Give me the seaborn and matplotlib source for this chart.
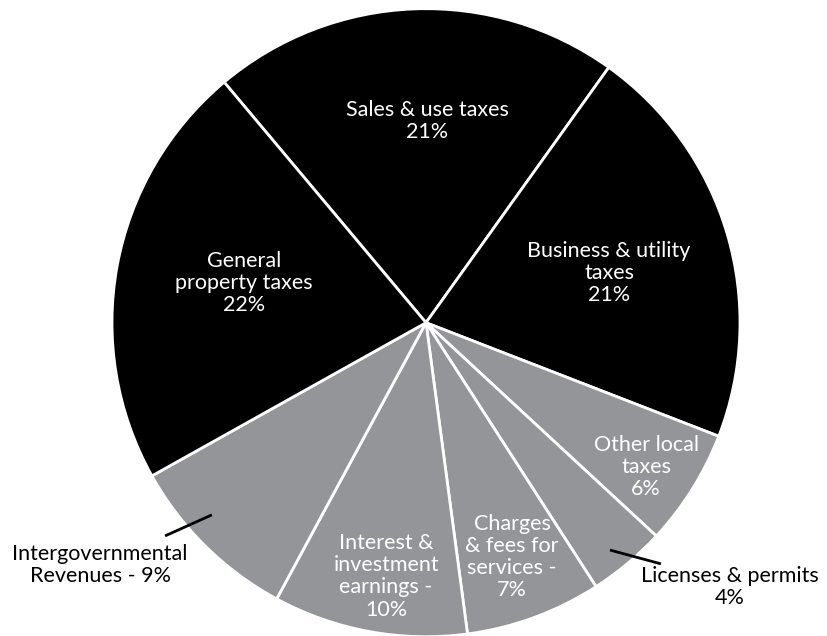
import matplotlib
matplotlib.use("Agg")
import matplotlib.pyplot as plt
import seaborn as sns

# Revenue sources, clockwise from the top slice
categories = [
    "Sales & use taxes",
    "Business & utility taxes",
    "Other local taxes",
    "Licenses & permits",
    "Charges & fees for services",
    "Interest & investment earnings",
    "Intergovernmental Revenues",
    "General property taxes",
]
shares = [21, 21, 6, 4, 7, 10, 9, 22]
tax_group = [True, True, False, False, False, False, False, True]

slice_labels = [
    "Sales & use taxes\n21%",
    "Business & utility\ntaxes\n21%",
    "Other local\ntaxes\n6%",
    "Licenses & permits\n4%",
    "Charges\n& fees for\nservices -\n7%",
    "Interest &\ninvestment\nearnings -\n10%",
    "Intergovernmental\nRevenues - 9%",
    "General\nproperty taxes\n22%",
]

sns.set_theme(style="white")
plt.rcParams["font.family"] = ["Lato", "DejaVu Sans"]

DARK = "#000000"
LIGHT = "#939598"
colors = [DARK if t else LIGHT for t in tax_group]

W, H = 828, 636
fig = plt.figure(figsize=(W / 100, H / 100), dpi=100)
fig.patch.set_facecolor("white")

# pie centre and radius in pixels
cx, cy, r = 426, 322.7, 314
ax = fig.add_axes([(cx - r) / W, (H - cy - r) / H, 2 * r / W, 2 * r / H])

wedges, _ = ax.pie(
    shares,
    colors=colors,
    startangle=130,
    counterclock=False,
    radius=1,
    center=(0, 0),
    wedgeprops=dict(edgecolor="white", linewidth=2),
)
ax.set_xlim(-1, 1)
ax.set_ylim(-1, 1)
ax.set_aspect("equal")
ax.axis("off")
for w in wedges:
    w.set_clip_on(False)

# label block centres (axes data units) and whether they sit inside the slice
label_pos = [
    (0.003, 0.641, True),
    (0.583, 0.158, True),
    (0.701, -0.460, True),
    (0.968, -0.843, False),
    (0.274, -0.746, True),
    (-0.127, -0.808, True),
    (-1.038, -0.773, False),
    (-0.580, 0.126, True),
]
for text, (x, y, inside) in zip(slice_labels, label_pos):
    ax.text(x, y, text, ha="center", va="center", multialignment="center",
            fontsize=15.5, linespacing=1.13,
            color="white" if inside else "black", clip_on=False)

# leader lines for the two outside labels
leaders = [((0.586, -0.724), (0.748, -0.768)),
           ((-0.831, -0.679), (-0.682, -0.612))]
for (x0, y0), (x1, y1) in leaders:
    ax.plot([x0, x1], [y0, y1], color="black", linewidth=2,
            solid_capstyle="butt", clip_on=False)

fig.savefig("out.png", dpi=100, facecolor="white")
